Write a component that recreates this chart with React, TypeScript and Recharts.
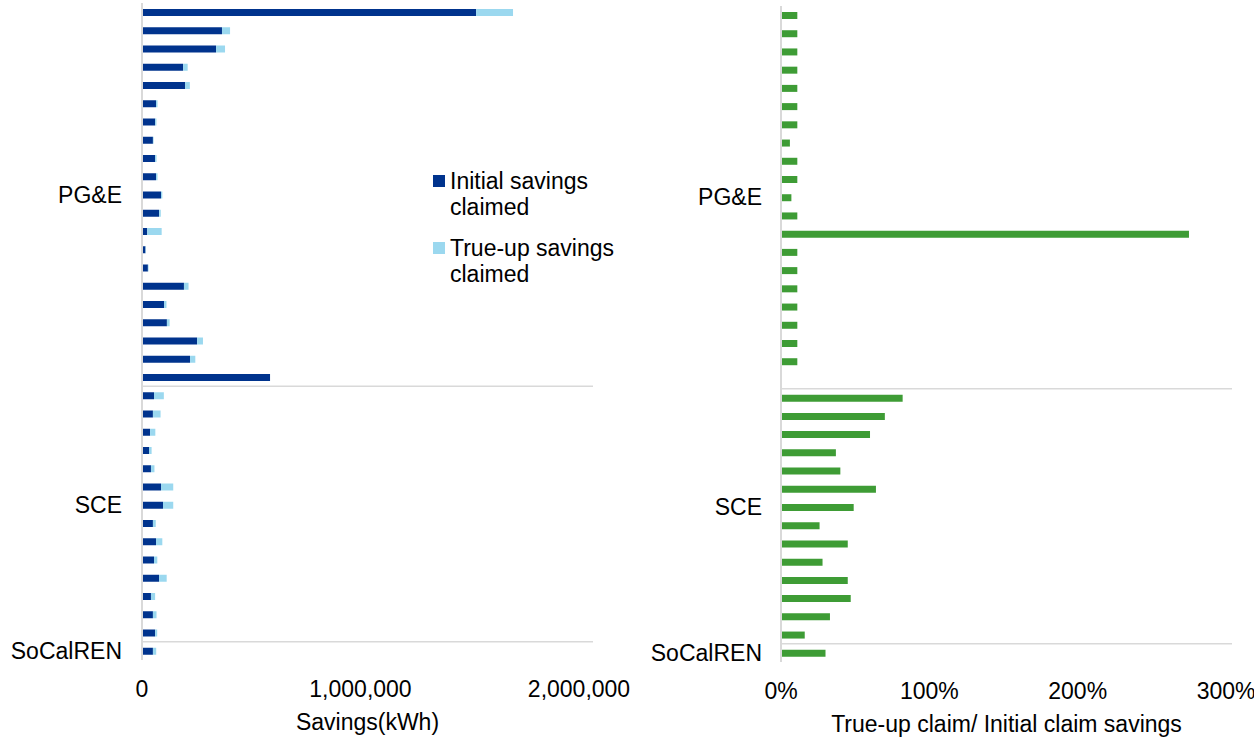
import { BarChart, Bar, XAxis, YAxis } from "recharts";

const GROUPS = ["PG&E", "SCE", "SoCalREN"];
const GROUP_SIZES = [21, 14, 1];
// row where Excel put each group's label
const GROUP_LABEL_ROWS = [10, 27, 35];

const INITIAL_KWH = [
  1529000, 366000, 339000, 188000, 197000, 64000, 60000, 50000, 60000, 64000,
  87000, 78000, 24000, 16000, 27000, 192000, 101000, 114000, 252000, 220000, 586000,
  55000, 50000, 37000, 32000, 41000, 87000, 96000, 50000, 64000, 55000, 78000,
  41000, 50000, 60000,
  50000,
];
const TRUEUP_KWH = [
  169000, 37000, 41000, 21000, 22000, 7000, 6000, 3000, 6500, 7000,
  6000, 8000, 66000, 1800, 3000, 21000, 11000, 12500, 27000, 24000, 0,
  45000, 35000, 24000, 12000, 16000, 56000, 47000, 13000, 29000, 15000, 35000,
  19000, 16500, 9500,
  15000,
];
const RATIO_PCT = [
  11, 11, 11, 11, 11, 11, 11, 6, 11, 11, 7, 11, 275, 11, 11, 11, 11, 11, 11, 11, 0,
  82, 70, 60, 37, 40, 64, 49, 26, 45, 28, 45, 47, 33, 16,
  30,
];

const SAVINGS_TICKS = [0, 1000000, 2000000];
const RATIO_TICKS = [0, 100, 200, 300];

const DARK_BLUE = "#00338D";
const LIGHT_BLUE = "#9BD8EF";
const GREEN = "#3E9C35";
const GRID = "#D9D9D9";
const FONT = 23;

const ROW_IDS: string[] = [];
const ROW_GROUP: number[] = [];
GROUPS.forEach((g, gi) => {
  for (let i = 0; i < GROUP_SIZES[gi]; i++) {
    ROW_IDS.push(`${g} ${i + 1}`);
    ROW_GROUP.push(gi);
  }
});

const savingsRows = ROW_IDS.map((id, i) => ({
  id,
  initial: INITIAL_KWH[i],
  trueup: TRUEUP_KWH[i],
}));

const ratioRows = ROW_IDS.map((id, i) => ({ id, ratio: RATIO_PCT[i] }));

// tick that prints the group name on one row and draws the group separators
function makeGroupTick(gap: number, plotWidth: number, step: number) {
  return (props: any) => {
    const { x, y } = props;
    const index = props.index ?? props.payload?.index ?? 0;
    const axisX = x + gap;
    const labelIdx = GROUP_LABEL_ROWS.indexOf(index);
    const isBoundary = index > 0 && ROW_GROUP[index] !== ROW_GROUP[index - 1];
    return (
      <g>
        {isBoundary && (
          <line
            x1={axisX}
            x2={axisX + plotWidth}
            y1={y - step / 2}
            y2={y - step / 2}
            stroke={GRID}
            strokeWidth={1.5}
          />
        )}
        {labelIdx >= 0 && (
          <text x={x} y={y} dy="0.35em" textAnchor="end" fontSize={FONT} fill="#000">
            {GROUPS[labelIdx]}
          </text>
        )}
      </g>
    );
  };
}

function LegendBox() {
  const items = [
    { color: DARK_BLUE, lines: ["Initial savings", "claimed"] },
    { color: LIGHT_BLUE, lines: ["True-up savings", "claimed"] },
  ];
  return (
    <div
      style={{
        position: "absolute",
        left: 433,
        top: 168,
        width: 200,
        fontSize: FONT,
        lineHeight: "26px",
        color: "#000",
        whiteSpace: "nowrap",
      }}
    >
      {items.map((it, i) => (
        <div key={i} style={{ display: "flex", alignItems: "flex-start", marginBottom: 15 }}>
          <div style={{ width: 12, height: 12, flex: "none", background: it.color, marginTop: 7, marginRight: 5 }} />
          <div>
            {it.lines.map((l) => (
              <div key={l}>{l}</div>
            ))}
          </div>
        </div>
      ))}
    </div>
  );
}

export default function App() {
  const leftW = 640;
  const leftH = 738;
  const leftMargin = { top: 3, right: 47, bottom: 8, left: 0 };
  const leftAxisW = 142;
  const leftPlotW = leftW - leftAxisW - leftMargin.right;
  const leftPlotH = leftH - leftMargin.top - leftMargin.bottom - 70;

  const rightW = 614;
  const rightH = 738;
  const rightMargin = { top: 6, right: 22, bottom: 6, left: 0 };
  const rightAxisW = 141;
  const rightPlotW = rightW - rightAxisW - rightMargin.right;
  const rightPlotH = rightH - rightMargin.top - rightMargin.bottom - 70;

  return (
    <div
      style={{
        position: "absolute",
        left: 0,
        top: 0,
        width: 1254,
        height: 738,
        background: "#fff",
        fontFamily: "'Liberation Sans', Arial, sans-serif",
      }}
    >
      <div style={{ position: "absolute", left: 0, top: 0 }}>
        <BarChart width={leftW} height={leftH} layout="vertical" data={savingsRows} margin={leftMargin}>
          <XAxis
            type="number"
            domain={[0, 2064000]}
            ticks={SAVINGS_TICKS}
            tickFormatter={(v: number) => v.toLocaleString("en-US")}
            axisLine={false}
            tickLine={false}
            tickMargin={15}
            height={70}
            tick={{ fontSize: FONT, fill: "#000" }}
            label={{ value: "Savings(kWh)", position: "insideBottom", offset: 0, fontSize: FONT, fill: "#000" }}
          />
          <YAxis
            type="category"
            dataKey="id"
            width={leftAxisW}
            interval={0}
            tickLine={false}
            tickSize={0}
            tickMargin={20}
            axisLine={{ stroke: GRID, strokeWidth: 2 }}
            tick={makeGroupTick(20, leftPlotW, leftPlotH / ROW_IDS.length)}
          />
          <Bar dataKey="initial" stackId="s" fill={DARK_BLUE} barSize={7} isAnimationActive={false} />
          <Bar dataKey="trueup" stackId="s" fill={LIGHT_BLUE} barSize={7} isAnimationActive={false} />
        </BarChart>
        <LegendBox />
      </div>
      <div style={{ position: "absolute", left: 640, top: 0 }}>
        <BarChart width={rightW} height={rightH} layout="vertical" data={ratioRows} margin={rightMargin}>
          <XAxis
            type="number"
            domain={[0, 304]}
            ticks={RATIO_TICKS}
            tickFormatter={(v: number) => `${v}%`}
            axisLine={false}
            tickLine={false}
            tickMargin={15}
            height={70}
            tick={{ fontSize: FONT, fill: "#000" }}
            label={{
              value: "True-up claim/ Initial claim savings",
              position: "insideBottom",
              offset: 0,
              fontSize: FONT,
              fill: "#000",
            }}
          />
          <YAxis
            type="category"
            dataKey="id"
            width={rightAxisW}
            interval={0}
            tickLine={false}
            tickSize={0}
            tickMargin={19}
            axisLine={{ stroke: GRID, strokeWidth: 2 }}
            tick={makeGroupTick(19, rightPlotW, rightPlotH / ROW_IDS.length)}
          />
          <Bar dataKey="ratio" fill={GREEN} barSize={7} isAnimationActive={false} />
        </BarChart>
      </div>
    </div>
  );
}
